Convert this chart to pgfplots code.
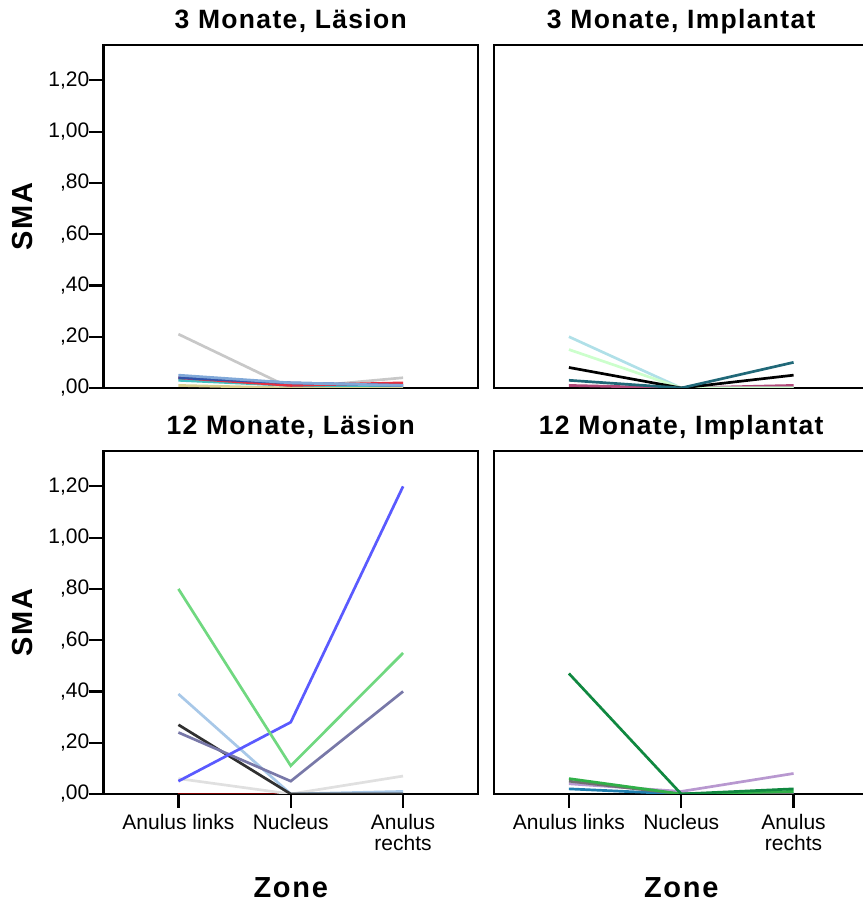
\documentclass[border=0pt]{standalone}
\usepackage{fontspec}
\setmainfont{Liberation Sans}
\usepackage{pgfplots}
\pgfplotsset{compat=1.18}

\pgfplotsset{
  panel/.style={
    scale only axis, width=374.5pt, height=343pt,
    xmin=-0.667, xmax=2.667, ymin=0, ymax=1.338,
    axis line style={line width=2.2pt, black},
    tick style={line width=2.2pt, black},
    tick align=outside, major tick length=14pt,
    xtick pos=bottom, ytick pos=left,
    xtick=\empty, ytick=\empty,
    title style={font=\fontsize{26.5}{30}\selectfont\bfseries\addfontfeatures{LetterSpace=5},
      at={(0.5,1)}, anchor=base, yshift=10.5pt, inner sep=0pt},
    every axis plot/.append style={line width=2.7pt, mark=none},
    /pgf/number format/assume math mode=true,
  },
  leftpanel/.style={
    ytick={0,0.2,0.4,0.6,0.8,1.0,1.2},
    yticklabels={{,00},{,20},{,40},{,60},{,80},{1,00},{1,20}},
    yticklabel style={font=\fontsize{21}{24}\selectfont, inner sep=0pt},
    ylabel={SMA},
    ylabel style={font=\fontsize{29}{34}\selectfont\bfseries\addfontfeatures{LetterSpace=6},
      at={(axis description cs:-0.2163,0.5)}, anchor=center, inner sep=0pt},
  },
  bottompanel/.style={
    xtick={0,1,2},
    xticklabels={Anulus links, Nucleus, {Anulus\\rechts}},
    xticklabel style={font=\fontsize{21}{21}\selectfont, align=center, anchor=north, inner sep=0pt, yshift=-6pt},
    xlabel={Zone},
    xlabel style={font=\fontsize{29}{34}\selectfont\bfseries\addfontfeatures{LetterSpace=6},
      at={(axis description cs:0.5,-0.2725)}, anchor=center, inner sep=0pt},
  },
}

\definecolor{tlgray}{HTML}{C8C8C8}
\definecolor{tlyellow}{HTML}{D8D090}
\definecolor{tlteal}{HTML}{40C0C0}
\definecolor{tlred}{HTML}{E83040}
\definecolor{tldblue}{HTML}{3050A8}
\definecolor{tllblue}{HTML}{80A8D8}
\definecolor{trpink}{HTML}{B04878}
\definecolor{trteal}{HTML}{206878}
\definecolor{trgreen}{HTML}{CCFFCC}
\definecolor{trcyan}{HTML}{B0E0E8}
\definecolor{bldred}{HTML}{800000}
\definecolor{blgray}{HTML}{E0E0E0}
\definecolor{bllblue}{HTML}{A8C8E8}
\definecolor{blblack}{HTML}{303030}
\definecolor{blslate}{HTML}{7878A8}
\definecolor{blblue}{HTML}{5A5AFF}
\definecolor{blgreen}{HTML}{70D880}
\definecolor{brblue}{HTML}{2080B0}
\definecolor{brlilac}{HTML}{B898D0}
\definecolor{brgray}{HTML}{707070}
\definecolor{brgreen}{HTML}{30B048}
\definecolor{brdgreen}{HTML}{108840}

\begin{document}
\begin{tikzpicture}
% Top left: 3 Monate, Laesion
\begin{axis}[panel, leftpanel, at={(103.5pt,514pt)}, anchor=south west,
  title={3 Monate, Läsion}]
\addplot[tlgray] coordinates {(0,0.21) (1,0.00) (2,0.04)};
\addplot[tlyellow] coordinates {(0,0.01) (1,0.00) (2,0.00)};
\addplot[tlteal] coordinates {(0,0.03) (1,0.01) (2,0.01)};
\addplot[tlred] coordinates {(0,0.04) (1,0.01) (2,0.02)};
\addplot[tldblue] coordinates {(0,0.04) (1,0.02) (2,0.01)};
\addplot[tllblue] coordinates {(0,0.05) (1,0.02) (2,0.01)};
\end{axis}
% Top right: 3 Monate, Implantat
\begin{axis}[panel, at={(494pt,514pt)}, anchor=south west,
  title={3 Monate, Implantat}]
\addplot[trpink] coordinates {(0,0.01) (1,0.00) (2,0.01)};
\addplot[trcyan] coordinates {(0,0.20) (1,0.00) (2,0.00)};
\addplot[trgreen] coordinates {(0,0.15) (1,0.00) (2,0.00)};
\addplot[black] coordinates {(0,0.08) (1,0.00) (2,0.05)};
\addplot[trteal] coordinates {(0,0.03) (1,0.00) (2,0.10)};
\end{axis}
% Bottom left: 12 Monate, Laesion
\begin{axis}[panel, leftpanel, bottompanel, at={(103.5pt,108pt)}, anchor=south west,
  title={12 Monate, Läsion}]
\addplot[bldred] coordinates {(0,0.00) (1,0.00) (2,0.00)};
\addplot[blgray] coordinates {(0,0.06) (1,0.00) (2,0.07)};
\addplot[bllblue] coordinates {(0,0.39) (1,0.00) (2,0.01)};
\addplot[blblack] coordinates {(0,0.27) (1,0.00) (2,0.00)};
\addplot[blslate] coordinates {(0,0.24) (1,0.05) (2,0.40)};
\addplot[blblue] coordinates {(0,0.05) (1,0.28) (2,1.20)};
\addplot[blgreen] coordinates {(0,0.80) (1,0.11) (2,0.55)};
\end{axis}
% Bottom right: 12 Monate, Implantat
\begin{axis}[panel, bottompanel, at={(494pt,108pt)}, anchor=south west,
  title={12 Monate, Implantat}]
\addplot[brblue] coordinates {(0,0.02) (1,0.00) (2,0.00)};
\addplot[brlilac] coordinates {(0,0.04) (1,0.01) (2,0.08)};
\addplot[brgray] coordinates {(0,0.05) (1,0.00) (2,0.00)};
\addplot[brgreen] coordinates {(0,0.06) (1,0.00) (2,0.01)};
\addplot[brdgreen] coordinates {(0,0.47) (1,0.00) (2,0.02)};
\end{axis}
\pgfresetboundingbox
\useasboundingbox (0pt,0pt) rectangle (862pt,902pt);
\end{tikzpicture}
\end{document}
